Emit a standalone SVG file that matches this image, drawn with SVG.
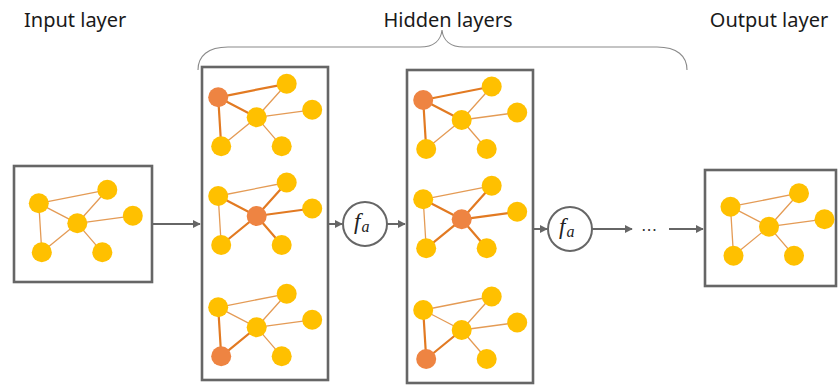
<svg xmlns="http://www.w3.org/2000/svg" width="840" height="385" viewBox="0 0 840 385">
<style>
.lbl{font-family:"Noto Sans","Open Sans",sans-serif;font-size:20px;fill:#1a1a1a}
.box{fill:#fff;stroke:#666;stroke-width:2.6}
.n{fill:#FFC000}
.h{fill:#EE8442}
.e{stroke:#E49B55;stroke-width:1.3;fill:none}
.t{stroke:#E27A22;stroke-width:2.2;fill:none}
.ar{stroke:#666;stroke-width:2;fill:none}
.fc{fill:#fff;stroke:#666;stroke-width:2}
.fa{font-family:"Liberation Serif","DejaVu Serif",serif;font-style:italic;fill:#222}
.brace{fill:none;stroke:#8a8a8a;stroke-width:1.1}
</style>
<defs>
<marker id="ah" viewBox="0 0 10 10" refX="9" refY="5" markerWidth="4" markerHeight="4" orient="auto">
<path d="M0,0 L10,5 L0,10 z" fill="#666"/>
</marker>
</defs>

<text class="lbl" x="24" y="27">Input layer</text>
<text class="lbl" x="448" y="27" text-anchor="middle">Hidden layers</text>
<text class="lbl" x="769" y="27" text-anchor="middle">Output layer</text>
<path class="brace" d="M198,70 C198,56 208,47 228,47 L420,47 C434,47 441,40 442,30 C443,40 450,47 464,47 L657,47 C677,47 687,56 687,70"/>

<g id="connectors">
<line class="ar" x1="153" y1="224" x2="200" y2="224" marker-end="url(#ah)"/>
<line class="ar" x1="329" y1="224" x2="342" y2="224" marker-end="url(#ah)"/>
<line class="ar" x1="387" y1="224" x2="405" y2="224" marker-end="url(#ah)"/>
<line class="ar" x1="534" y1="229" x2="547" y2="229" marker-end="url(#ah)"/>
<line class="ar" x1="592" y1="229" x2="632" y2="229" marker-end="url(#ah)"/>
<line class="ar" x1="669" y1="229" x2="703" y2="229" marker-end="url(#ah)"/>
</g>

<g id="input-layer">
<rect class="box" x="14" y="166" width="138" height="116"/>
<g transform="translate(77.3,223.3)">
<path class="e" d="M-38.5,-20 L30,-33.5 M-38.5,-20 L0,0 M-38.5,-20 L-35.5,29 M0,0 L30,-33.5 M0,0 L55.5,-7.5 M0,0 L-35.5,29 M0,0 L25,29"/>
<circle class="n" cx="-38.5" cy="-20" r="10"/><circle class="n" cx="30" cy="-33.5" r="10"/><circle class="n" cx="0" cy="0" r="10"/><circle class="n" cx="55.5" cy="-7.5" r="10"/><circle class="n" cx="-35.5" cy="29" r="10"/><circle class="n" cx="25" cy="29" r="10"/>
</g>
</g>

<g id="hidden-layer-1">
<rect class="box" x="202" y="67" width="126" height="313"/>
<g transform="translate(256.7,117.3)">
<path class="e" d="M0,0 L30,-33.5 M0,0 L55.5,-7.5 M0,0 L-35.5,29 M0,0 L25,29"/>
<path class="t" d="M-38.5,-20 L30,-33.5 M-38.5,-20 L0,0 M-38.5,-20 L-35.5,29"/>
<circle class="h" cx="-38.5" cy="-20" r="10"/><circle class="n" cx="30" cy="-33.5" r="10"/><circle class="n" cx="0" cy="0" r="10"/><circle class="n" cx="55.5" cy="-7.5" r="10"/><circle class="n" cx="-35.5" cy="29" r="10"/><circle class="n" cx="25" cy="29" r="10"/>
</g>
<g transform="translate(256.7,216)">
<path class="e" d="M-38.5,-20 L30,-33.5 M-38.5,-20 L-35.5,29"/>
<path class="t" d="M0,0 L-38.5,-20 M0,0 L30,-33.5 M0,0 L55.5,-7.5 M0,0 L-35.5,29 M0,0 L25,29"/>
<circle class="n" cx="-38.5" cy="-20" r="10"/><circle class="n" cx="30" cy="-33.5" r="10"/><circle class="h" cx="0" cy="0" r="10"/><circle class="n" cx="55.5" cy="-7.5" r="10"/><circle class="n" cx="-35.5" cy="29" r="10"/><circle class="n" cx="25" cy="29" r="10"/>
</g>
<g transform="translate(256.7,327.3)">
<path class="e" d="M-38.5,-20 L30,-33.5 M-38.5,-20 L0,0 M0,0 L30,-33.5 M0,0 L55.5,-7.5 M0,0 L25,29"/>
<path class="t" d="M-35.5,29 L-38.5,-20 M-35.5,29 L0,0"/>
<circle class="n" cx="-38.5" cy="-20" r="10"/><circle class="n" cx="30" cy="-33.5" r="10"/><circle class="n" cx="0" cy="0" r="10"/><circle class="n" cx="55.5" cy="-7.5" r="10"/><circle class="h" cx="-35.5" cy="29" r="10"/><circle class="n" cx="25" cy="29" r="10"/>
</g>
</g>

<g id="activation-1">
<circle class="fc" cx="365" cy="224" r="22"/>
<text class="fa" x="354" y="229" font-size="23">f<tspan font-size="16" dy="3" dx="1">a</tspan></text>
</g>

<g id="hidden-layer-2">
<rect class="box" x="407" y="70" width="126" height="313"/>
<g transform="translate(461.7,120)">
<path class="e" d="M0,0 L30,-33.5 M0,0 L55.5,-7.5 M0,0 L-35.5,29 M0,0 L25,29"/>
<path class="t" d="M-38.5,-20 L30,-33.5 M-38.5,-20 L0,0 M-38.5,-20 L-35.5,29"/>
<circle class="h" cx="-38.5" cy="-20" r="10"/><circle class="n" cx="30" cy="-33.5" r="10"/><circle class="n" cx="0" cy="0" r="10"/><circle class="n" cx="55.5" cy="-7.5" r="10"/><circle class="n" cx="-35.5" cy="29" r="10"/><circle class="n" cx="25" cy="29" r="10"/>
</g>
<g transform="translate(461.7,219.3)">
<path class="e" d="M-38.5,-20 L30,-33.5 M-38.5,-20 L-35.5,29"/>
<path class="t" d="M0,0 L-38.5,-20 M0,0 L30,-33.5 M0,0 L55.5,-7.5 M0,0 L-35.5,29 M0,0 L25,29"/>
<circle class="n" cx="-38.5" cy="-20" r="10"/><circle class="n" cx="30" cy="-33.5" r="10"/><circle class="h" cx="0" cy="0" r="10"/><circle class="n" cx="55.5" cy="-7.5" r="10"/><circle class="n" cx="-35.5" cy="29" r="10"/><circle class="n" cx="25" cy="29" r="10"/>
</g>
<g transform="translate(461.7,330)">
<path class="e" d="M-38.5,-20 L30,-33.5 M-38.5,-20 L0,0 M0,0 L30,-33.5 M0,0 L55.5,-7.5 M0,0 L25,29"/>
<path class="t" d="M-35.5,29 L-38.5,-20 M-35.5,29 L0,0"/>
<circle class="n" cx="-38.5" cy="-20" r="10"/><circle class="n" cx="30" cy="-33.5" r="10"/><circle class="n" cx="0" cy="0" r="10"/><circle class="n" cx="55.5" cy="-7.5" r="10"/><circle class="h" cx="-35.5" cy="29" r="10"/><circle class="n" cx="25" cy="29" r="10"/>
</g>
</g>

<g id="activation-2">
<circle class="fc" cx="570" cy="229" r="22"/>
<text class="fa" x="559" y="234" font-size="23">f<tspan font-size="16" dy="3" dx="1">a</tspan></text>
</g>

<g id="ellipsis">
<text x="649" y="235" text-anchor="middle" font-family="DejaVu Sans,sans-serif" font-size="16" fill="#333">⋯</text>
</g>

<g id="output-layer">
<rect class="box" x="705" y="170" width="131" height="116"/>
<g transform="translate(769,226.7)">
<path class="e" d="M-38.5,-20 L30,-33.5 M-38.5,-20 L0,0 M-38.5,-20 L-35.5,29 M0,0 L30,-33.5 M0,0 L55.5,-7.5 M0,0 L-35.5,29 M0,0 L25,29"/>
<circle class="n" cx="-38.5" cy="-20" r="10"/><circle class="n" cx="30" cy="-33.5" r="10"/><circle class="n" cx="0" cy="0" r="10"/><circle class="n" cx="55.5" cy="-7.5" r="10"/><circle class="n" cx="-35.5" cy="29" r="10"/><circle class="n" cx="25" cy="29" r="10"/>
</g>
</g>
</svg>
